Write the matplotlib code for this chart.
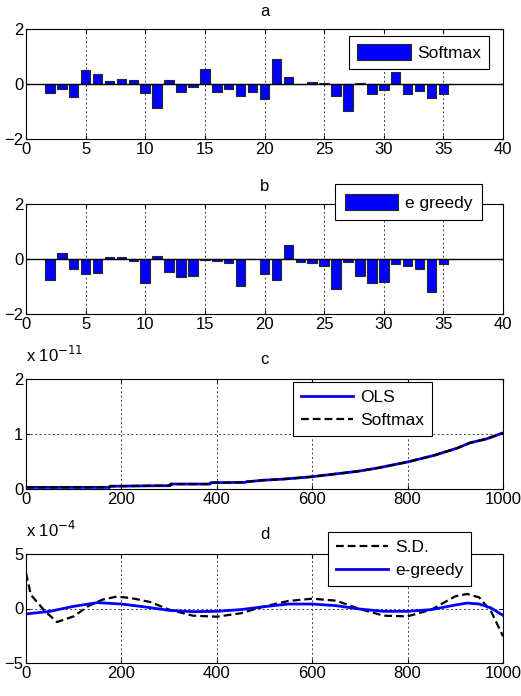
import numpy as np
import matplotlib
matplotlib.use("Agg")
import matplotlib.pyplot as plt

plt.rcParams['font.family'] = ['Liberation Sans', 'DejaVu Sans']
plt.rcParams['font.size'] = 12

# bar panels (a, b)
bar_x = list(range(2, 36))
softmax_err = [-0.33, -0.17, -0.48, 0.50, 0.35, 0.10, 0.19, 0.15, -0.34, -0.88,
               0.13, -0.28, -0.12, 0.55, -0.28, -0.17, -0.42, -0.28, -0.53, 0.91,
               0.24, 0.0, 0.08, 0.05, -0.42, -0.99, 0.05, -0.36, -0.22, 0.44,
               -0.36, -0.27, -0.52, -0.35]
greedy_err = [-0.78, 0.22, -0.36, -0.56, -0.51, 0.06, 0.06, -0.06, -0.89, 0.12,
              -0.46, -0.67, -0.63, -0.05, -0.06, -0.16, -0.98, 0.0, -0.56, -0.78,
              0.52, -0.11, -0.16, -0.25, -1.08, -0.10, -0.62, -0.87, -0.82, -0.19,
              -0.25, -0.36, -1.19, -0.20]

# panel c (units of 1e-11)
c_x = [0, 100, 175, 176, 280, 302, 303, 386, 387, 460, 461, 498, 540, 596,
       645, 694, 736, 799, 855, 903, 931, 965, 1000]
c_ols = [0.03, 0.03, 0.03, 0.05, 0.06, 0.06, 0.09, 0.09, 0.115, 0.12, 0.13, 0.16,
         0.18, 0.22, 0.27, 0.32, 0.38, 0.49, 0.61, 0.74, 0.84, 0.91, 1.02]
c_soft = c_ols

# panel d (units of 1e-4)
d_x_sd = [0, 10, 25, 40, 65, 100, 130, 160, 190, 220, 260, 300, 350, 400, 450,
          500, 550, 600, 650, 700, 750, 800, 850, 900, 925, 950, 975, 1000]
d_sd = [3.26, 1.27, 0.5, -0.26, -1.24, -0.72, 0.2, 0.81, 1.09, 0.96, 0.6, -0.1,
        -0.66, -0.75, -0.44, 0.2, 0.69, 0.9, 0.72, -0.05, -0.66, -0.72, -0.1,
        1.12, 1.33, 1.02, -0.26, -2.55]
d_x_eg = [0, 50, 100, 150, 200, 250, 300, 350, 400, 450, 500, 550, 600, 650,
          700, 750, 800, 850, 900, 925, 950, 975, 1000]
d_eg = [-0.5, -0.26, 0.2, 0.54, 0.41, 0.14, -0.17, -0.29, -0.26, -0.1, 0.17,
        0.41, 0.41, 0.26, -0.05, -0.26, -0.26, -0.1, 0.32, 0.5, 0.41, 0.05, -0.63]

W, H = 521, 696
fig = plt.figure(figsize=(W / 100, H / 100), dpi=100)

def px_axes(top, bottom):
    return fig.add_axes([26 / W, 1 - bottom / H, (503 - 26) / W, (bottom - top) / H])

def style(ax):
    ax.tick_params(direction='in', top=True, right=True, length=3, labelsize=12, pad=2)
    ax.grid(True, color='0.25', linestyle=(0, (2, 2.5)), linewidth=0.7)
    ax.set_axisbelow(True)
    for s in ax.spines.values():
        s.set_linewidth(0.8)

def leg(ax, left, top, **kw):
    l = ax.legend(loc='upper left', bbox_to_anchor=(left / W, 1 - top / H),
                  bbox_transform=fig.transFigure, fancybox=False, framealpha=1,
                  edgecolor='k', fontsize=12.5, borderaxespad=0, **kw)
    l.get_frame().set_linewidth(0.8)
    return l

# a
ax = px_axes(29, 139)
ax.bar(bar_x, softmax_err, width=0.8, color='#0000ff', edgecolor='0.15', linewidth=0.8,
       label='Softmax', zorder=3)
ax.axhline(0, color='k', lw=1, zorder=4)
ax.set_xlim(0, 40)
ax.set_ylim(-2, 2)
ax.set_xticks(range(0, 41, 5))
ax.set_yticks([-2, 0, 2])
style(ax)
ax.set_title('a', fontsize=12, pad=9)
leg(ax, 349, 36, handlelength=3.1, handleheight=1.1, handletextpad=0.4,
    borderpad=0.45)

# b
ax = px_axes(204, 314)
ax.bar(bar_x, greedy_err, width=0.8, color='#0000ff', edgecolor='0.15', linewidth=0.8,
       label='e greedy', zorder=3)
ax.axhline(0, color='k', lw=1, zorder=4)
ax.set_xlim(0, 40)
ax.set_ylim(-2, 2)
ax.set_xticks(range(0, 41, 5))
ax.set_yticks([-2, 0, 2])
style(ax)
ax.set_title('b', fontsize=12, pad=9)
leg(ax, 335, 184, handlelength=3.1, handleheight=1.1, handletextpad=0.4,
    borderpad=0.55)

# c
ax = px_axes(379, 489)
ax.plot(c_x, c_ols, color='#0000ff', lw=2, label='OLS')
ax.plot(c_x, c_soft, color='k', lw=1.6, ls=(0, (3.5, 1.8)), label='Softmax')
ax.set_xlim(0, 1000)
ax.set_ylim(0, 2)
ax.set_xticks(range(0, 1001, 200))
ax.set_yticks([0, 1, 2])
style(ax)
ax.set_title('c', fontsize=12, pad=11)
fig.text(26 / W, 1 - 362 / H, r'x 10$^{-11}$', fontsize=12, ha='left', va='baseline')
leg(ax, 293, 382, handlelength=3.0, handletextpad=0.4, borderpad=0.45,
    labelspacing=0.45)

# d
ax = px_axes(554, 663)
ax.plot(d_x_sd, d_sd, color='k', lw=1.6, ls=(0, (3.5, 1.8)), label='S.D.')
ax.plot(d_x_eg, d_eg, color='#0000ff', lw=2, label='e-greedy')
ax.set_xlim(0, 1000)
ax.set_ylim(-5, 5)
ax.set_xticks(range(0, 1001, 200))
ax.set_yticks([-5, 0, 5])
style(ax)
ax.set_title('d', fontsize=12, pad=11)
fig.text(26 / W, 1 - 537 / H, r'x 10$^{-4}$', fontsize=12, ha='left', va='baseline')
leg(ax, 328, 532, handlelength=3.0, handletextpad=0.4, borderpad=0.45,
    labelspacing=0.45)

fig.savefig('out.png', dpi=100)
